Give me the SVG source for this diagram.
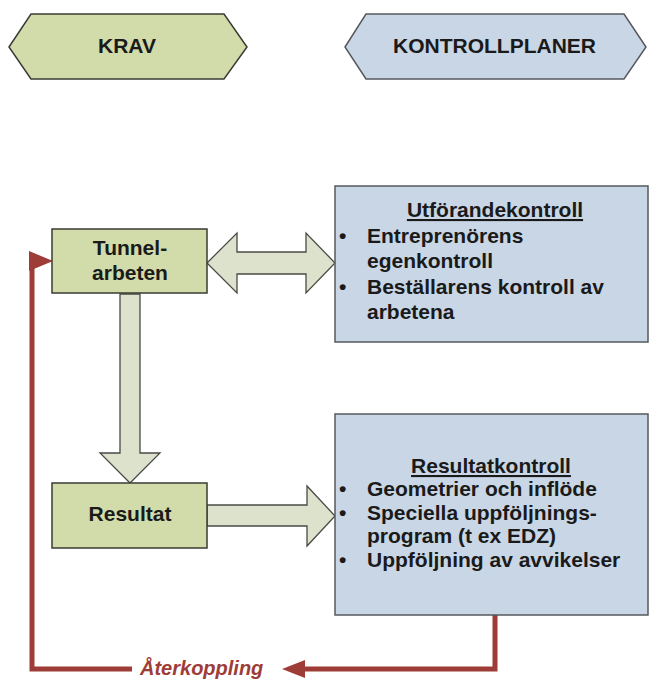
<svg xmlns="http://www.w3.org/2000/svg" width="649" height="679" viewBox="0 0 649 679">
<defs>
<style>
.t{font-family:"Liberation Sans",Arial,sans-serif;font-weight:bold;font-size:21px;fill:#1a1a1a}
.c{text-anchor:middle}
.green{fill:#d1dcaa;stroke:#3b3b33;stroke-width:1.5}
.blue{fill:#c9d6e5;stroke:#55595e;stroke-width:1.5}
.arr{fill:#dde2cd;stroke:#4a4a44;stroke-width:1.3;stroke-linejoin:miter}
.red{fill:none;stroke:#9e3c37;stroke-width:5;stroke-linejoin:miter}
.redf{fill:#9e3c37}
</style>
</defs>
<rect width="649" height="679" fill="#ffffff"/>
<g id="krav">
<polygon class="green" points="9,47 31,14 224,14 247,47 224,79 31,79"/>
<text class="t c" x="127" y="53">KRAV</text>
</g>
<g id="kontrollplaner">
<polygon class="blue" points="345,47 366,14 624,14 646,47 624,79 366,79"/>
<text class="t c" x="494.5" y="53">KONTROLLPLANER</text>
</g>
<g id="connectors">
<polygon class="arr" points="207,263 237,233 237,252 306,252 306,233 335,263 306,293 306,274 237,274 237,293"/>
<polygon class="arr" points="120,294 140,294 140,453 160,453 130,483 100,453 120,453"/>
<polygon class="arr" points="207,505 307,505 307,486 335,516 307,546 307,526 207,526"/>
<path class="red" d="M495,615 V669 H300"/>
<polygon class="redf" points="282,669 305,660 305,678"/>
<path class="red" d="M132,669 H32 V261"/>
<polygon class="redf" points="29,251 53,261 29,271"/>
<text x="140" y="675" style="font-family:'Liberation Sans',Arial,sans-serif;font-weight:bold;font-style:italic;font-size:20px;fill:#9e3c37">Återkoppling</text>
</g>
<g id="tunnelarbeten">
<rect class="green" x="52" y="229" width="155" height="64"/>
<text class="t c" x="130" y="255">Tunnel-</text>
<text class="t c" x="130" y="280">arbeten</text>
</g>
<g id="resultat">
<rect class="green" x="52" y="483" width="155" height="65"/>
<text class="t c" x="130" y="521">Resultat</text>
</g>
<g id="utforandekontroll">
<rect class="blue" x="335" y="186" width="313" height="156"/>
<text class="t c" x="495" y="217" text-decoration="underline">Utförandekontroll</text>
<text class="t" x="339" y="243">•</text>
<text class="t" x="367" y="243">Entreprenörens</text>
<text class="t" x="367" y="268">egenkontroll</text>
<text class="t" x="339" y="294">•</text>
<text class="t" x="367" y="294">Beställarens kontroll av</text>
<text class="t" x="367" y="319">arbetena</text>
</g>
<g id="resultatkontroll">
<rect class="blue" x="335" y="414" width="313" height="201"/>
<text class="t c" x="491" y="473" text-decoration="underline">Resultatkontroll</text>
<text class="t" x="339" y="496">•</text>
<text class="t" x="367" y="496">Geometrier och inflöde</text>
<text class="t" x="339" y="520">•</text>
<text class="t" x="367" y="520">Speciella uppföljnings-</text>
<text class="t" x="367" y="543">program (t ex EDZ)</text>
<text class="t" x="339" y="567">•</text>
<text class="t" x="367" y="567">Uppföljning av avvikelser</text>
</g>
</svg>
